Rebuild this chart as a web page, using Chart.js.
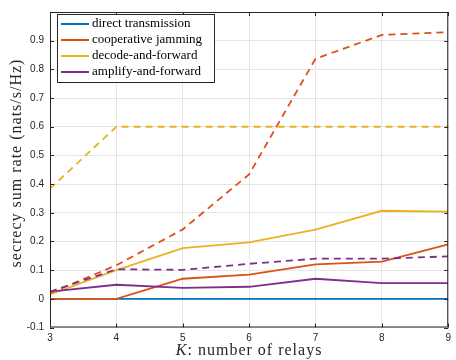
<!DOCTYPE html>
<html>
<head>
<meta charset="utf-8">
<script src="https://cdn.jsdelivr.net/npm/chart.js@4"></script>
<style>
  html, body { margin: 0; padding: 0; background: #fff; }
  #wrap { width: 456px; height: 360px; }
</style>
</head>
<body>
<div id="wrap"><canvas id="myChart" width="456" height="360"></canvas></div>
<script>
const relays = [3, 4, 5, 6, 7, 8, 9];

const direct = [0, 0, 0, 0, 0, 0, 0];
const jamming = [0, 0, 0.07, 0.084, 0.12, 0.13, 0.19];
const jammingDashed = [0.02, 0.117, 0.242, 0.434, 0.837, 0.92, 0.93];
const decode = [0.015, 0.1, 0.177, 0.197, 0.241, 0.307, 0.304];
const decodeDashed = [0.384, 0.6, 0.6, 0.6, 0.6, 0.6, 0.6];
const amplify = [0.025, 0.049, 0.038, 0.042, 0.07, 0.055, 0.055];
const amplifyDashed = [0.025, 0.103, 0.101, 0.122, 0.14, 0.14, 0.148];

const yTicks = [-0.1, 0, 0.1, 0.2, 0.3, 0.4, 0.5, 0.6, 0.7, 0.8, 0.9];

const legendNames = ["direct transmission", "cooperative jamming", "decode-and-forward", "amplify-and-forward"];
const colors = ["#0072BD", "#D95319", "#EDB120", "#7E2F8E"];

function pts(arr) {
  return arr.map((v, i) => ({ x: relays[i], y: v }));
}

function line(label, values, color, dashed, order) {
  return {
    label: label,
    data: pts(values),
    borderColor: color,
    backgroundColor: color,
    borderWidth: 1.8,
    borderDash: dashed ? [7, 5] : [],
    pointRadius: 0,
    fill: false,
    tension: 0,
    order: order,
  };
}

const data = {
  datasets: [
    line(legendNames[0], direct, colors[0], false, 10),
    line(legendNames[1], jamming, colors[1], false, 9),
    line(legendNames[2], decode, colors[2], false, 8),
    line(legendNames[3], amplify, colors[3], false, 7),
    line("", jammingDashed, colors[1], true, 6),
    line("", decodeDashed, colors[2], true, 5),
    line("", amplifyDashed, colors[3], true, 4),
  ],
};

// box, inward ticks, legend and axis titles
const frame = {
  id: "frame",
  afterDraw(chart) {
    const c = chart.ctx;
    const a = chart.chartArea;
    const xs = chart.scales.x, ys = chart.scales.y;
    c.save();
    c.strokeStyle = "#262626";
    c.lineWidth = 1;
    c.strokeRect(a.left + 0.5, a.top + 0.5, a.right - a.left - 1, a.bottom - a.top - 1);
    c.beginPath();
    relays.forEach(v => {
      const px = Math.round(xs.getPixelForValue(v)) + 0.5;
      c.moveTo(px, a.bottom); c.lineTo(px, a.bottom - 4);
      c.moveTo(px, a.top); c.lineTo(px, a.top + 4);
    });
    yTicks.forEach(v => {
      const py = Math.round(ys.getPixelForValue(v)) + 0.5;
      c.moveTo(a.left, py); c.lineTo(a.left + 4, py);
      c.moveTo(a.right, py); c.lineTo(a.right - 4, py);
    });
    c.stroke();

    // legend
    const lx = 57, ly = 14, lw = 157, lh = 68;
    c.fillStyle = "#fff";
    c.fillRect(lx, ly, lw, lh);
    c.strokeStyle = "#262626";
    c.strokeRect(lx + 0.5, ly + 0.5, lw, lh);
    c.font = "13px 'Liberation Serif'";
    c.textBaseline = "middle";
    legendNames.forEach((name, i) => {
      const y = 24 + i * 16;
      c.strokeStyle = colors[i];
      c.lineWidth = 2;
      c.beginPath();
      c.moveTo(61, y); c.lineTo(89, y);
      c.stroke();
      c.fillStyle = "#000";
      c.fillText(name, 92, y);
    });

    // x title
    c.fillStyle = "#262626";
    c.letterSpacing = "1px";
    c.textBaseline = "alphabetic";
    const k = "K";
    const rest = ": number of relays";
    c.font = "italic 16px 'Liberation Serif'";
    const kw = c.measureText(k).width;
    c.font = "16px 'Liberation Serif'";
    const rw = c.measureText(rest).width;
    const cx = (a.left + a.right) / 2;
    const start = cx - (kw + rw) / 2;
    c.font = "italic 16px 'Liberation Serif'";
    c.fillText(k, start, 355);
    c.font = "16px 'Liberation Serif'";
    c.fillText(rest, start + kw, 355);

    // y title
    c.translate(17, 163);
    c.rotate(-Math.PI / 2);
    c.textAlign = "center";
    c.textBaseline = "middle";
    c.font = "16px 'Liberation Serif'";
    c.fillText("secrecy sum rate (nats/s/Hz)", 0, 0);
    c.restore();
  },
};

const config = {
  type: "line",
  data: data,
  options: {
    responsive: false,
    animation: false,
    layout: { padding: { top: 6, right: 1, left: 0, bottom: 0 } },
    plugins: {
      legend: { display: false },
      tooltip: { enabled: false },
    },
    scales: {
      x: {
        type: "linear",
        min: 3,
        max: 9,
        afterBuildTicks: s => { s.ticks = relays.map(v => ({ value: v })); },
        afterFit: s => { s.height = 32.5; },
        grid: { color: "#e5e5e5", drawTicks: false },
        border: { display: false },
        ticks: {
          padding: 5,
          color: "#262626",
          font: { family: "'Liberation Sans'", size: 10 },
          maxRotation: 0,
        },
      },
      y: {
        min: -0.1,
        max: 1.0,
        afterBuildTicks: s => { s.ticks = yTicks.map(v => ({ value: v })); },
        afterFit: s => { s.width = 50; },
        grid: { color: "#e5e5e5", drawTicks: false },
        border: { display: false },
        ticks: {
          padding: 6,
          color: "#262626",
          font: { family: "'Liberation Sans'", size: 10 },
          callback: v => Number(v.toFixed(1)).toString(),
        },
      },
    },
  },
  plugins: [frame],
};

const myChart = new Chart(document.getElementById("myChart").getContext("2d"), config);
</script>
</body>
</html>
